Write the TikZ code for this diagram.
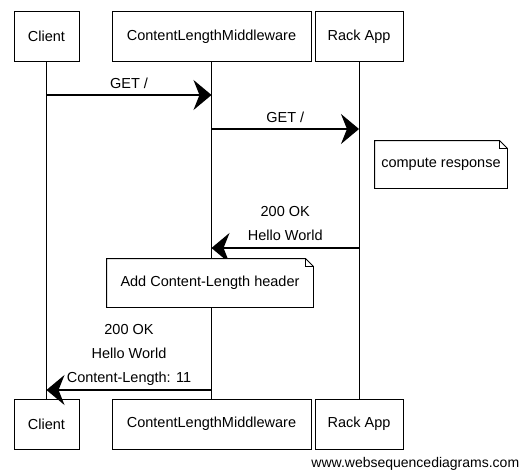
\documentclass[tikz,border=0pt]{standalone}
\usepackage{fontspec}
\setmainfont{Liberation Sans}
\usetikzlibrary{arrows.meta,calc}

\tikzset{
  actor/.style={draw,fill=white,minimum height=50pt,inner sep=0pt},
  note/.style={inner sep=0pt,minimum height=47pt},
  msg/.style={-{Stealth[length=18pt,width=30pt,inset=6pt]},line width=1.1pt},
}

\begin{document}
\begin{tikzpicture}[x=1pt,y=-1pt,line width=0.9pt,font=\fontsize{14.5}{24}\selectfont]
\useasboundingbox (0,0) rectangle (528,471);
% participants, top and bottom
\node[actor,minimum width=65pt] (client) at (46.5,36.5) {Client};
\node[actor,minimum width=199pt] (mw) at (211.5,36.5) {ContentLengthMiddleware};
\node[actor,minimum width=88pt] (rack) at (359,36.5) {Rack App};
\node[actor,minimum width=65pt] (clientB) at (46.5,424) {Client};
\node[actor,minimum width=199pt] (mwB) at (211.5,424) {ContentLengthMiddleware};
\node[actor,minimum width=88pt] (rackB) at (359,424) {Rack App};
% lifelines
\draw (client) -- (clientB);
\draw (mw) -- (mwB);
\draw (rack) -- (rackB);
% messages
\coordinate (c1) at (client |- 0,95);
\coordinate (m1) at (mw |- 0,95);
\coordinate (m2) at (mw |- 0,129);
\coordinate (r2) at (rack |- 0,129);
\coordinate (r3) at (rack |- 0,248);
\coordinate (m3) at (mw |- 0,248);
\coordinate (m4) at (mw |- 0,390);
\coordinate (c4) at (client |- 0,390);
\draw[msg] (c1) -- node[yshift=12pt]{GET /} (m1);
\draw[msg] (m2) -- node[yshift=12pt]{GET /} (r2);
\draw[msg] (r3) -- node[yshift=24pt,align=center]{200 OK\\Hello World} (m3);
\draw[msg] (m4) -- node[yshift=35pt,align=center]{200 OK\\Hello World\\Content-Length: 11} (c4);
% notes
\node[note,minimum width=132pt] (cr) at (441,164.5) {compute response};
\draw (cr.north west) -- ($(cr.north east)+(-8,0)$) -- ($(cr.north east)+(0,8)$) -- (cr.south east) -- (cr.south west) -- cycle;
\draw ($(cr.north east)+(-8,0)$) |- ($(cr.north east)+(0,8)$);
\fill[white] (107,259) rectangle (313,307);
\node[note,minimum width=206pt,minimum height=48pt] (cl) at (210,283) {Add Content-Length header};
\draw (cl.north west) -- ($(cl.north east)+(-8,0)$) -- ($(cl.north east)+(0,8)$) -- (cl.south east) -- (cl.south west) -- cycle;
\draw ($(cl.north east)+(-8,0)$) |- ($(cl.north east)+(0,8)$);
\node[anchor=base east,font=\fontsize{14}{16}\selectfont] (site) at (523,467) {www.websequencediagrams.com};
\end{tikzpicture}
\end{document}
